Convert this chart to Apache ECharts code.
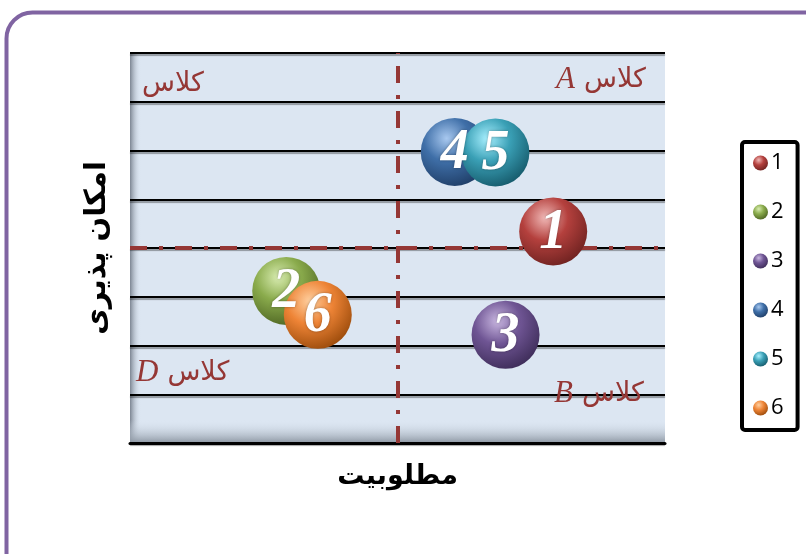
<!DOCTYPE html>
<html lang="fa">
<head>
	<meta charset="UTF-8">
	<title>Bubble</title>
	<script src="https://cdn.jsdelivr.net/npm/echarts@6/dist/echarts.min.js"></script>
	<style>
		html, body { margin: 0; padding: 0; background: #fff; }
	</style>
</head>
<body>
	<div id="chart" style="width:806px; height:554px;"></div>
	<script>
	// data
	var names = ['1', '2', '3', '4', '5', '6'];
	var xVals = [7.91, 2.92, 7.02, 6.07, 6.83, 3.51];
	var yVals = [4.34, 3.12, 2.22, 5.97, 5.96, 2.63];
	var sizes = [10, 10, 10, 10, 10, 10];
	var baseColors = ['#b4403d', '#8aab4c', '#6f5594', '#3f6fa8', '#3aa0b6', '#ee8436'];
	var lightColors = ['#f0b8b6', '#d8ecb0', '#c8b6e0', '#a8c8ef', '#a8f0ff', '#ffd0a0'];
	var darkColors = ['#6e2220', '#4d6422', '#3d2c58', '#1f3d66', '#15596a', '#9a4a0a'];
	var quadLabels = ['کلاس', 'A', 'D', 'B'];

	var myChart = echarts.init(document.getElementById('chart'));

	function sphere(i) {
		return new echarts.graphic.RadialGradient(0.38, 0.3, 0.75, [
			{offset: 0, color: lightColors[i]},
			{offset: 0.45, color: baseColors[i]},
			{offset: 1, color: darkColors[i]}
		]);
	}

	var series = names.map(function (n, i) {
		return {
			name: n,
			type: 'scatter',
			data: [[xVals[i], yVals[i], sizes[i]]],
			symbolSize: function (v) { return v[2] * 6.8; },
			itemStyle: {color: sphere(i), opacity: 1},
			label: {
				show: true,
				position: 'inside',
				offset: [0, 2],
				formatter: n,
				color: '#fff',
				fontFamily: 'Liberation Serif',
				fontStyle: 'italic',
				fontWeight: 'bold',
				fontSize: 56,
				textShadowColor: 'rgba(0,0,0,0.35)',
				textShadowBlur: 3
			},
			emphasis: {disabled: true}
		};
	});
	// dash-dot lines through the middle
	series[0].markLine = {
		silent: true,
		symbol: 'none',
		label: {show: false},
		lineStyle: {color: '#953735', width: 4, type: [17, 12, 4, 12]},
		data: [{xAxis: 5}, {yAxis: 4}],
		z: 1
	};

	var red = '#953735';
	function quad(x, y, letter) {
		var txt = letter ? '{l|' + letter + '}{a|' + quadLabels[0] + '}' : '{a|' + quadLabels[0] + '}';
		return {
			type: 'text', left: x, top: y, z: 5,
			style: {
				text: txt,
				rich: {
					a: {fontFamily: 'DejaVu Sans', fontSize: 27, fill: red},
					l: {fontFamily: 'Liberation Serif', fontStyle: 'italic', fontSize: 31, fill: red, padding: [0, 9, 0, 0]}
				}
			}
		};
	}

	option = {
		animation: false,
		graphic: [
			{type: 'rect', z: -10, shape: {x: 6.5, y: 12.5, width: 830, height: 570, r: 26},
				style: {fill: '#fff', stroke: '#8064a2', lineWidth: 4}},
			{type: 'rect', z: -5, shape: {x: 130, y: 53, width: 535, height: 390},
				style: {fill: '#dce6f2'}},
			{type: 'rect', z: -4, shape: {x: 130, y: 53, width: 11, height: 390},
				style: {fill: new echarts.graphic.LinearGradient(0, 0, 1, 0, [
					{offset: 0, color: '#7c8592'}, {offset: 1, color: 'rgba(220,230,242,0)'}])}},
			{type: 'rect', z: -4, shape: {x: 130, y: 420, width: 535, height: 23},
				style: {fill: new echarts.graphic.LinearGradient(0, 0, 0, 1, [
					{offset: 0, color: 'rgba(220,230,242,0)'}, {offset: 1, color: '#8c96a2'}])}},
			quad(142, 70, null),
			quad(556, 64, 'A'),
			quad(136, 357, 'D'),
			quad(554, 378, 'B')
		],
		legend: {
			data: names,
			orient: 'vertical',
			left: 742,
			top: 142,
			width: 58,
			padding: [10, 14, 11, 11],
			itemGap: 27,
			itemWidth: 15,
			itemHeight: 15,
			icon: 'circle',
			borderColor: '#000',
			borderWidth: 4,
			borderRadius: 3,
			backgroundColor: '#fff',
			textStyle: {fontFamily: 'Open Sans', fontSize: 22, color: '#000', padding: [0, 0, 0, -2]}
		},
		grid: {left: 130, top: 53, width: 535, height: 390},
		xAxis: {
			type: 'value', min: 0, max: 10, interval: 1,
			name: 'مطلوبیت',
			nameLocation: 'middle',
			nameGap: 20,
			nameTextStyle: {fontFamily: 'DejaVu Sans', fontWeight: 'bold', fontSize: 27, color: '#000'},
			axisLine: {show: true, lineStyle: {color: '#000', width: 3}},
			axisTick: {show: false},
			axisLabel: {show: false},
			splitLine: {show: false}
		},
		yAxis: {
			type: 'value', min: 0, max: 8, interval: 1,
			name: 'امکان پذیری',
			nameLocation: 'middle',
			nameRotate: 90,
			nameGap: 18,
			nameTextStyle: {fontFamily: 'DejaVu Sans', fontWeight: 'bold', fontSize: 29, color: '#000'},
			axisLine: {show: false},
			axisTick: {show: false},
			axisLabel: {show: false},
			splitLine: {show: true, lineStyle: {color: '#000', width: 2,
				shadowColor: 'rgba(0,0,0,0.35)', shadowOffsetY: 2, shadowBlur: 1}}
		},
		series: series
	};

	myChart.setOption(option);
	</script>
</body>
</html>
